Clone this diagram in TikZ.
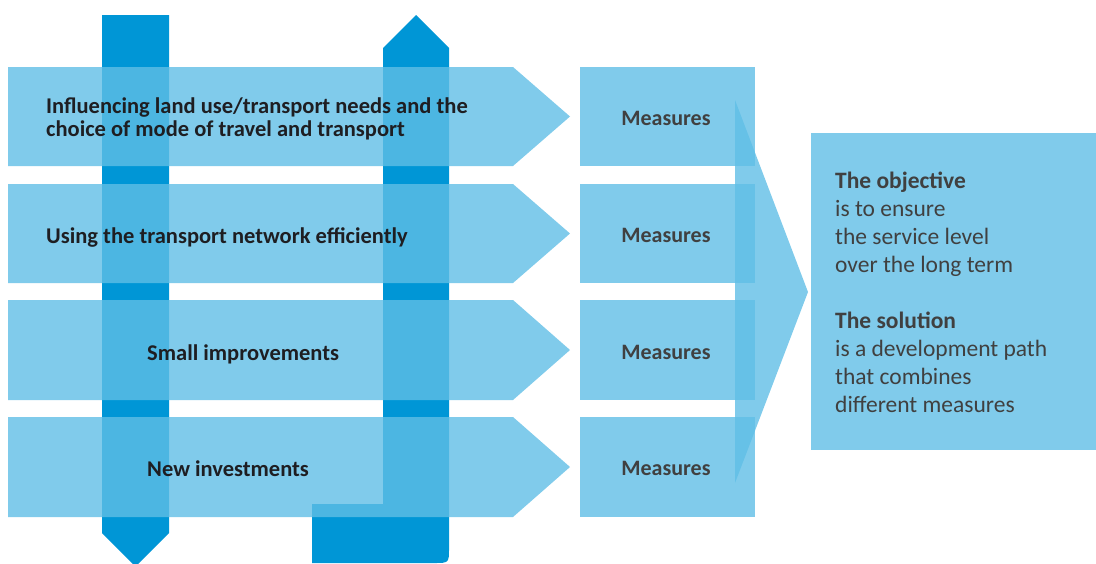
\documentclass[tikz,border=0pt]{standalone}
\usepackage{fontspec}
\setmainfont{Carlito}
\begin{document}
\begin{tikzpicture}[x=1pt,y=-1pt,
  barfill/.style={fill={rgb,255:red,0;green,150;blue,214}},
  panel/.style={fill={rgb,255:red,96;green,190;blue,230},fill opacity=0.8},
  rowlabel/.style={anchor=base west,inner sep=0pt,font=\fontsize{22.5}{24}\selectfont\bfseries,text={rgb,255:red,30;green,30;blue,34}},
  measure/.style={anchor=base,inner sep=0pt,font=\fontsize{22}{24}\selectfont\bfseries,text={rgb,255:red,64;green,64;blue,64}},
  note/.style={anchor=base west,inner sep=0pt,font=\fontsize{23.5}{28}\selectfont,text={rgb,255:red,64;green,64;blue,64}}]
\useasboundingbox (0,0) rectangle (1096,563);
\clip (0,0) rectangle (1096,563);

% vertical bars behind the rows
\fill[barfill] (102,15) -- (169,15) -- (169,533) -- (135.5,566.5) -- (102,533) -- cycle;
\fill[barfill] (383,48) -- (416,15) -- (449,48) -- (449,548)
  .. controls (449,563) .. (434,563) -- (312,563) -- (312,504) -- (383,504) -- cycle;

% row arrows and measure boxes
\foreach \t/\b in {67/166,184/283,300/400,417/517}{
  \fill[panel] (8,\t) -- (513,\t) -- (570,{(\t+\b)/2}) -- (513,\b) -- (8,\b) -- cycle;
  \fill[panel] (580,\t) rectangle (755,\b);
}

% converging arrow and result box
\fill[panel] (735,100) -- (808,292) -- (735,483) -- cycle;
\fill[panel] (811,133) rectangle (1096,450);

\node[rowlabel] (r1a) at (46,113.3) {Influencing land use/transport needs and the};
\node[rowlabel] (r1b) at (46,136.7) {choice of mode of travel and transport};
\node[rowlabel] (r2) at (46,243.3) {Using the transport network efficiently};
\node[rowlabel] (r3) at (147,360) {Small improvements};
\node[rowlabel] (r4) at (147,476.5) {New investments};

\foreach \y [count=\i] in {125,242.2,359,475.5}
  \node[measure] (m\i) at (666,\y) {Measures};

\node[note] (obj1) at (835,188) {\textbf{The objective}};
\node[note] (obj2) at (835,216) {is to ensure};
\node[note] (obj3) at (835,244) {the service level};
\node[note] (obj4) at (835,272) {over the long term};
\node[note] (sol1) at (835,328) {\textbf{The solution}};
\node[note] (sol2) at (835,356) {is a development path};
\node[note] (sol3) at (835,384) {that combines};
\node[note] (sol4) at (835,412) {different measures};
\end{tikzpicture}
\end{document}
